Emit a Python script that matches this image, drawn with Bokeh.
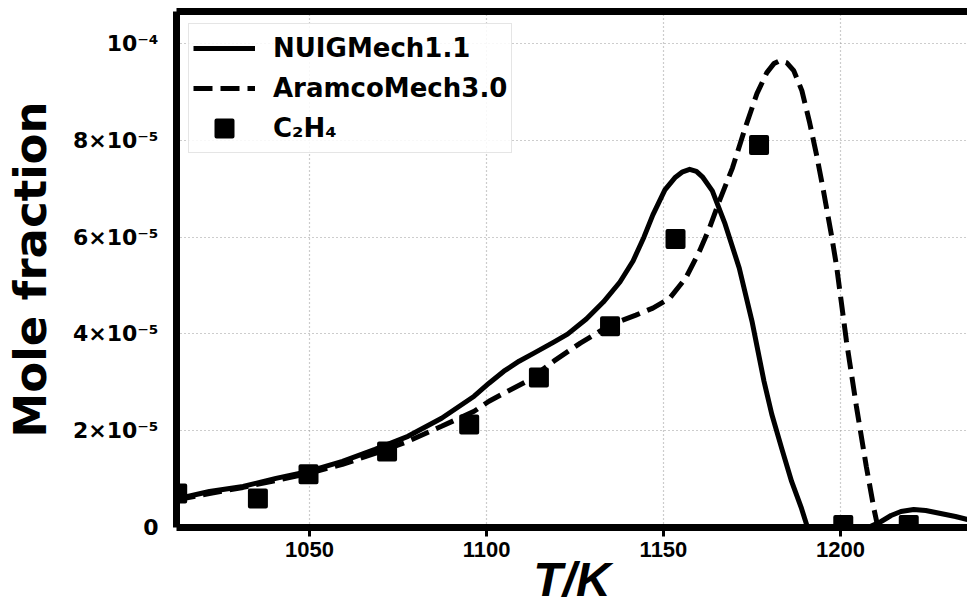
from bokeh.plotting import figure
from bokeh.models import Range1d, FixedTicker, CustomJSTickFormatter, LinearAxis, Legend, LegendItem
from bokeh.embed import file_html
from bokeh.resources import INLINE

# ---------------- data ----------------
nuig_T = [1012.4, 1021.7, 1031.2, 1040.5, 1049.7, 1059.3, 1068.5, 1077.8, 1087.3, 1096.5,
          1100.7, 1104.9, 1109.2, 1113.4, 1119.0, 1122.9, 1128.2, 1133.0, 1137.7, 1141.4,
          1144.5, 1147.0, 1150.4, 1153.2, 1155.4, 1157.4, 1159.3, 1161.0, 1163.8, 1167.4,
          1171.4, 1175.0, 1178.4, 1180.6, 1183.4, 1186.2, 1189.0, 1190.7, 1200.3, 1207.8,
          1211.5, 1214.3, 1217.1, 1220.7, 1224.1, 1228.3, 1232.5, 1235.9]
nuig_X = [0.590e-5, 0.745e-5, 0.849e-5, 1.014e-5, 1.159e-5, 1.366e-5, 1.615e-5, 1.884e-5, 2.256e-5, 2.712e-5,
          2.981e-5, 3.229e-5, 3.436e-5, 3.602e-5, 3.830e-5, 3.995e-5, 4.306e-5, 4.658e-5, 5.072e-5, 5.506e-5,
          6.003e-5, 6.458e-5, 6.976e-5, 7.224e-5, 7.349e-5, 7.400e-5, 7.359e-5, 7.245e-5, 6.955e-5, 6.272e-5,
          5.361e-5, 4.264e-5, 3.022e-5, 2.339e-5, 1.635e-5, 0.952e-5, 0.393e-5, 0.0, 0.0, 0.0,
          0.124e-5, 0.248e-5, 0.331e-5, 0.373e-5, 0.352e-5, 0.290e-5, 0.228e-5, 0.166e-5]

aramco_T = [1012.4, 1021.7, 1031.2, 1040.5, 1049.7, 1059.3, 1068.5, 1077.8, 1087.3, 1096.5,
            1100.7, 1104.9, 1111.4, 1119.0, 1126.5, 1133.0, 1137.7, 1142.2, 1147.0, 1151.8,
            1156.3, 1160.2, 1163.0, 1165.8, 1169.5, 1173.1, 1176.4, 1179.2, 1181.2, 1182.9,
            1184.8, 1186.8, 1189.1, 1191.3, 1193.3, 1195.2, 1197.5, 1198.9, 1201.7, 1204.5,
            1207.3, 1209.5, 1210.6, 1217.1, 1235.9]
aramco_X = [0.570e-5, 0.704e-5, 0.828e-5, 0.973e-5, 1.118e-5, 1.304e-5, 1.532e-5, 1.780e-5, 2.091e-5, 2.401e-5,
            2.608e-5, 2.774e-5, 3.022e-5, 3.436e-5, 3.809e-5, 4.099e-5, 4.264e-5, 4.388e-5, 4.533e-5, 4.740e-5,
            5.154e-5, 5.713e-5, 6.189e-5, 6.748e-5, 7.431e-5, 8.259e-5, 8.963e-5, 9.398e-5, 9.584e-5, 9.646e-5,
            9.605e-5, 9.439e-5, 9.025e-5, 8.363e-5, 7.680e-5, 6.955e-5, 6.024e-5, 5.402e-5, 3.850e-5, 2.505e-5,
            1.263e-5, 0.373e-5, 0.0, 0.0, 0.0]

exp_T = [1012.6, 1035.4, 1049.7, 1071.9, 1095.1, 1114.8, 1134.9, 1153.4, 1177.0, 1200.8, 1219.3]
exp_X = [0.70e-5, 0.60e-5, 1.10e-5, 1.57e-5, 2.13e-5, 3.10e-5, 4.16e-5, 5.96e-5, 7.90e-5, 0.05e-5, 0.05e-5]

series_names = ["NUIGMech1.1", "AramcoMech3.0", "C₂H₄"]
x_ticks = [1050, 1100, 1150, 1200]
y_ticks = [0.0, 2e-5, 4e-5, 6e-5, 8e-5, 1e-4]
y_tick_labels = ["0", "2×10⁻⁵", "4×10⁻⁵", "6×10⁻⁵", "8×10⁻⁵", "10⁻⁴"]
x_title = "T/K"
y_title = "Mole fraction"

x_start, x_end = 1012.4, 1235.9
y_start, y_end = 0.0, 1.066e-4

# ---------------- figure ----------------
p = figure(width=967, height=613, output_backend="svg", toolbar_location=None,
           x_range=Range1d(x_start, x_end), y_range=Range1d(y_start, y_end),
           min_border_left=170, min_border_right=0, min_border_top=11, min_border_bottom=86)
p.outline_line_color = None
p.background_fill_color = "white"

r1 = p.line(nuig_T, nuig_X, line_color="black", line_width=5, line_join="round")
r2 = p.line(aramco_T, aramco_X, line_color="black", line_width=5, line_dash="19 8")
r3 = p.scatter(exp_T, exp_X, marker="square", size=16, fill_color="black",
               line_color="black", line_width=4, line_join="round")

# x axis
xa = p.xaxis[0]
xa.ticker = FixedTicker(ticks=x_ticks)
xa.axis_line_width = 7
xa.axis_line_color = "black"
xa.major_tick_line_width = 3
xa.major_tick_out = 9
xa.major_tick_in = 0
xa.minor_tick_out = 0
xa.minor_tick_in = 0
xa.major_label_standoff = 5
xa.major_label_text_font = "Liberation Sans"
xa.major_label_text_font_style = "bold"
xa.major_label_text_font_size = "22px"
xa.major_label_text_color = "black"
xa.axis_label = x_title
xa.axis_label_text_font = "Liberation Sans"
xa.axis_label_text_font_style = "bold italic"
xa.axis_label_text_font_size = "48px"
xa.axis_label_standoff = -7
xa.axis_label_text_color = "black"

# y axis
ya = p.yaxis[0]
ya.ticker = FixedTicker(ticks=y_ticks)
ya.formatter = CustomJSTickFormatter(args=dict(yt=y_ticks, yl=y_tick_labels), code="""
for (let i = 0; i < yt.length; i++) {
  if (Math.abs(tick - yt[i]) < 1e-9) { return yl[i]; }
}
return "";
""")
ya.axis_line_width = 7
ya.axis_line_color = "black"
ya.major_tick_out = 0
ya.major_tick_in = 0
ya.minor_tick_out = 0
ya.minor_tick_in = 0
ya.major_label_standoff = 18
ya.major_label_text_font = "DejaVu Sans"
ya.major_label_text_font_style = "bold"
ya.major_label_text_font_size = "22px"
ya.major_label_text_color = "black"
ya.axis_label = y_title
ya.axis_label_text_font = "DejaVu Sans"
ya.axis_label_text_font_style = "bold"
ya.axis_label_text_font_size = "45px"
ya.axis_label_standoff = 13
ya.axis_label_text_color = "black"

top = LinearAxis(ticker=FixedTicker(ticks=[]), axis_line_width=7, axis_line_color="black",
                 major_tick_out=0, major_tick_in=0, minor_tick_out=0, minor_tick_in=0,
                 major_label_text_font_size="0px", major_label_standoff=0)
p.add_layout(top, "above")

# grid
p.xgrid.ticker = FixedTicker(ticks=x_ticks)
p.ygrid.ticker = FixedTicker(ticks=y_ticks)
for g in (p.xgrid[0], p.ygrid[0]):
    g.grid_line_color = "#9a9a9a"
    g.grid_line_dash = "1 3"
    g.grid_line_width = 1.2

legend = Legend(items=[LegendItem(label=series_names[0], renderers=[r1]),
                       LegendItem(label=series_names[1], renderers=[r2]),
                       LegendItem(label=series_names[2], renderers=[r3])],
                location="top_left", margin=12, padding=4, spacing=0,
                glyph_width=62, glyph_height=40, label_height=40, label_standoff=18,
                label_text_font="DejaVu Sans", label_text_font_style="bold",
                label_text_font_size="26px", label_text_color="black",
                border_line_color="#cccccc", border_line_width=1.5,
                background_fill_color="white", background_fill_alpha=0.85)
p.add_layout(legend, "center")

open("out.html", "w").write(file_html(p, INLINE))
